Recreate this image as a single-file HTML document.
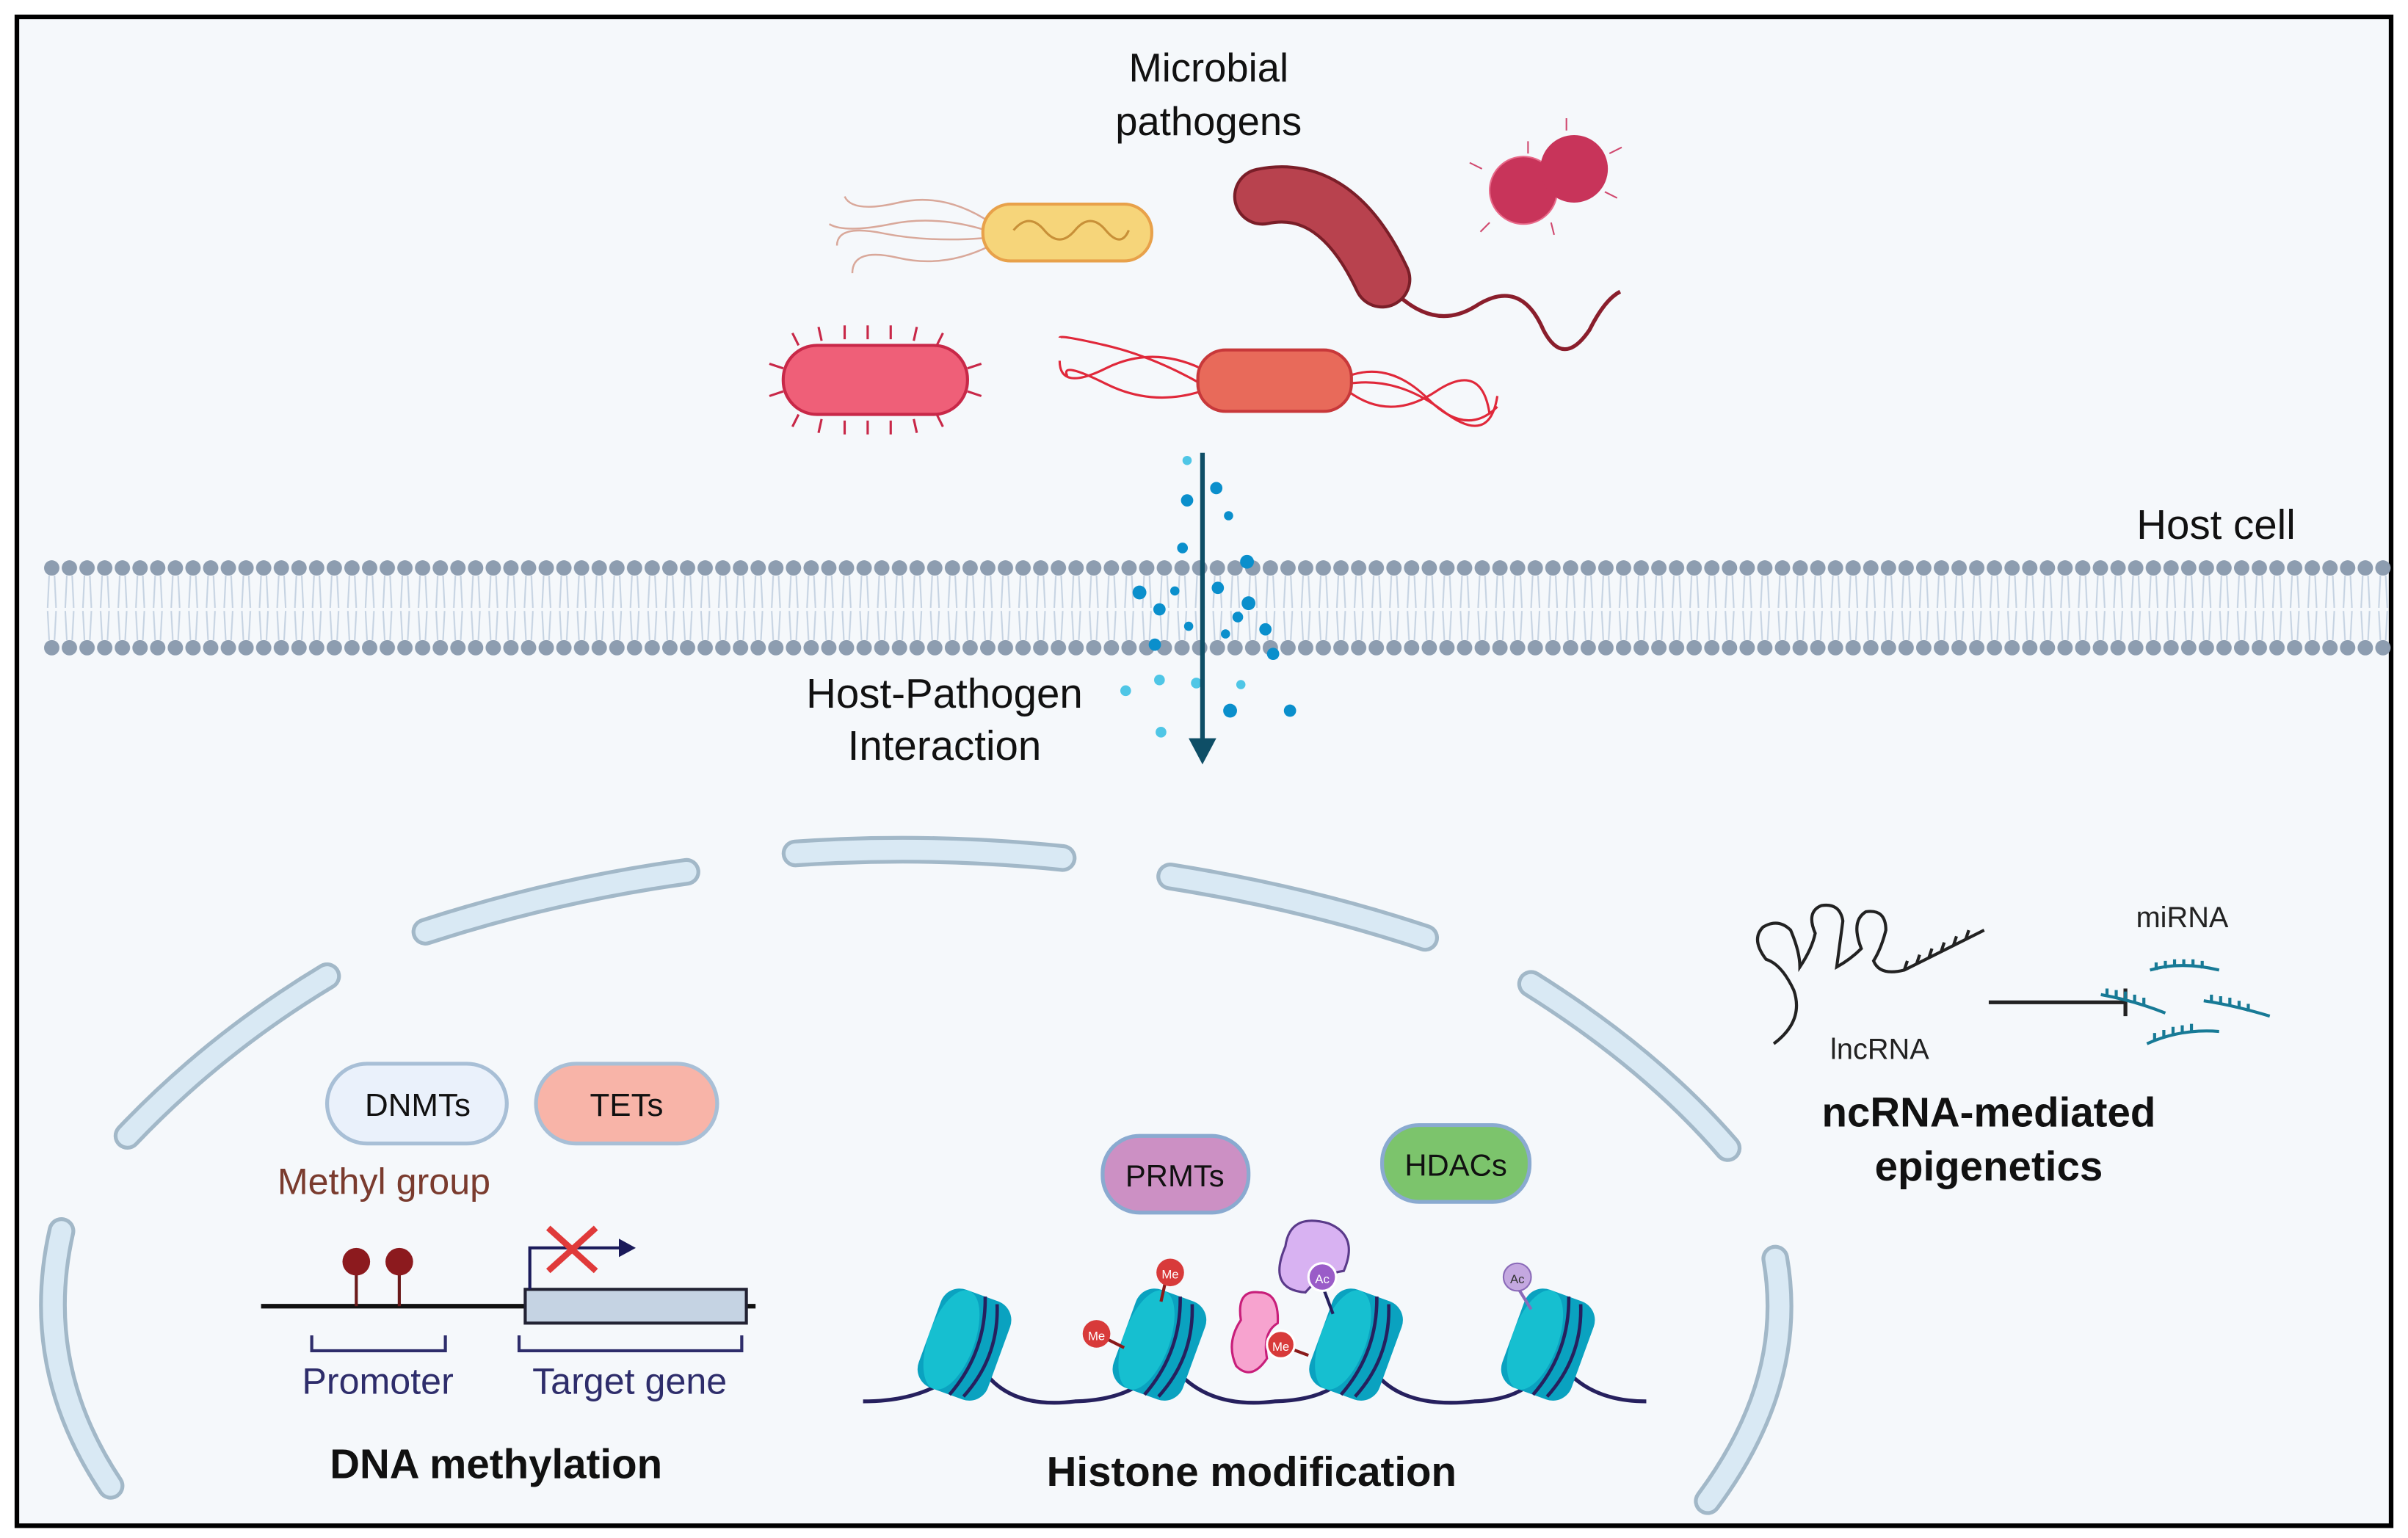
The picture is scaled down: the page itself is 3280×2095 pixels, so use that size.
<!DOCTYPE html>
<html><head><meta charset="utf-8"><style>
html,body{margin:0;padding:0;background:#fff}
svg{display:block}
text{font-family:"Liberation Sans",sans-serif}
</style></head><body>
<svg width="3280" height="2095" viewBox="0 0 1568 1002" preserveAspectRatio="none" xmlns="http://www.w3.org/2000/svg">
<defs>
<pattern id="heads" x="28" y="0" width="11.5" height="1002" patternUnits="userSpaceOnUse">
<circle cx="5.7" cy="370" r="5" fill="#8d9db0"/>
<circle cx="5.7" cy="422" r="5" fill="#8d9db0"/>
<path d="M4 375 L3 396 M7.5 375 L8.5 396 M3 398 L4 417 M8.5 398 L7.5 417" stroke="#c6d3e2" stroke-width="1" fill="none"/>
</pattern>
<g id="nuc">
<g transform="rotate(20)">
<rect x="-24" y="-34" width="48" height="68" rx="13" fill="#0aa2c0"/>
<ellipse cx="-9" cy="0" rx="15" ry="34" fill="#16bfd0"/>
<path d="M2 -34 Q15 0 2 34 M11 -32 Q24 0 11 32" stroke="#26205e" stroke-width="2.2" fill="none"/>
</g>
</g>
</defs>
<rect x="0" y="0" width="1568" height="1002" fill="#fff"/>
<rect x="11" y="11" width="1546" height="983" fill="#f5f8fb" stroke="#000" stroke-width="3"/>

<rect x="28" y="362" width="1529" height="68" fill="url(#heads)"/>

<text x="787" y="53" font-size="26" text-anchor="middle" fill="#111">Microbial</text>
<text x="787" y="88" font-size="26" text-anchor="middle" fill="#111">pathogens</text>
<text x="1443" y="351" font-size="27" text-anchor="middle" fill="#111">Host cell</text>
<text x="615" y="461" font-size="27" text-anchor="middle" fill="#111">Host-Pathogen</text>
<text x="615" y="495" font-size="27" text-anchor="middle" fill="#111">Interaction</text>

<g fill="none" stroke="#d9a89a" stroke-width="1.2">
<path d="M642 150 Q610 140 580 146 T540 146"/><path d="M642 155 Q605 158 575 152 T545 160"/><path d="M645 145 Q615 125 585 132 T550 128"/><path d="M645 160 Q615 175 585 168 T555 178"/>
</g>
<rect x="640" y="133" width="110" height="37" rx="18" fill="#f6d57a" stroke="#e8a14a" stroke-width="2"/>
<path d="M660 150 q10 -12 20 0 t20 0 t20 0 t15 0" stroke="#c89038" fill="none" stroke-width="1.5"/>
<path d="M910 192 Q935 215 960 200 Q990 180 1005 215 Q1018 240 1035 215 Q1045 195 1055 190" stroke="#8a1e2c" stroke-width="2.5" fill="none"/>
<path d="M822 128 Q870 118 900 182" stroke="#7a1e28" stroke-width="38" stroke-linecap="round" fill="none"/>
<path d="M822 128 Q870 118 900 182" stroke="#b8424e" stroke-width="34" stroke-linecap="round" fill="none"/>
<circle cx="992" cy="124" r="22" fill="#c8345a" stroke="#e86a8a" stroke-width="1"/>
<circle cx="1025" cy="110" r="22" fill="#c8345a"/>
<g stroke="#d0486e" stroke-width="1"><path d="M965 110 l-8 -4 M970 145 l-6 6 M995 100 l0 -8 M1048 100 l8 -4 M1045 125 l8 4 M1020 85 l0 -8 M1010 145 l2 8"/></g>
<g stroke="#c82848" stroke-width="1.5">
<path d="M520 225 l-4 -8 M535 222 l-2 -9 M550 221 l0 -9 M565 221 l0 -9 M580 221 l0 -9 M595 222 l2 -9 M610 225 l4 -8 M520 270 l-4 8 M535 273 l-2 9 M550 274 l0 9 M565 274 l0 9 M580 274 l0 9 M595 273 l2 9 M610 270 l4 8 M510 240 l-9 -3 M510 255 l-9 3 M630 240 l9 -3 M630 255 l9 3"/>
</g>
<rect x="510" y="225" width="120" height="45" rx="22" fill="#ef5f78" stroke="#c82848" stroke-width="2"/>
<g fill="none" stroke="#e0283a" stroke-width="1.5">
<path d="M782 240 Q750 225 720 240 T690 235"/><path d="M782 250 Q750 232 720 225 T690 220"/><path d="M782 255 Q750 265 720 250 T695 245"/>
<path d="M878 245 Q905 235 930 260 T975 265"/><path d="M878 255 Q905 275 935 255 T970 270"/><path d="M878 250 Q910 245 940 268 T975 258"/>
</g>
<rect x="780" y="228" width="100" height="40" rx="18" fill="#e86a5a" stroke="#c8383a" stroke-width="2"/>

<g fill="#0a8fcc">
<circle cx="773" cy="326" r="4"/><circle cx="792" cy="318" r="4"/><circle cx="770" cy="357" r="3.5"/><circle cx="800" cy="336" r="3"/><circle cx="812" cy="366" r="4.5"/>
<circle cx="742" cy="386" r="4.5"/><circle cx="765" cy="385" r="3"/><circle cx="793" cy="383" r="4"/><circle cx="813" cy="393" r="4.5"/>
<circle cx="755" cy="397" r="4"/><circle cx="774" cy="408" r="3"/><circle cx="806" cy="402" r="3.5"/><circle cx="798" cy="413" r="3"/><circle cx="824" cy="410" r="4"/>
<circle cx="752" cy="420" r="4"/><circle cx="829" cy="426" r="4"/><circle cx="801" cy="463" r="4.5"/><circle cx="840" cy="463" r="4"/>
</g>
<g fill="#4fc6e6"><circle cx="773" cy="300" r="3"/><circle cx="733" cy="450" r="3.5"/><circle cx="779" cy="445" r="3.5"/><circle cx="808" cy="446" r="3"/><circle cx="756" cy="477" r="3.5"/><circle cx="755" cy="443" r="3.5"/></g>
<line x1="783" y1="295" x2="783" y2="482" stroke="#0e4e66" stroke-width="3"/>
<polygon points="774,481 792,481 783,498" fill="#0e4e66"/>

<g fill="none" stroke-linecap="round">
<g stroke="#a2b8c8" stroke-width="18">
<path d="M40 802 Q20 890 72 968"/><path d="M83 740 Q140 680 213 636"/><path d="M277 607 Q360 580 447 568"/><path d="M518 556 Q605 550 692 559"/><path d="M762 571 Q850 585 928 611"/><path d="M997 641 Q1075 690 1125 748"/><path d="M1156 820 Q1170 900 1112 978"/>
</g>
<g stroke="#d9e9f4" stroke-width="13">
<path d="M40 802 Q20 890 72 968"/><path d="M83 740 Q140 680 213 636"/><path d="M277 607 Q360 580 447 568"/><path d="M518 556 Q605 550 692 559"/><path d="M762 571 Q850 585 928 611"/><path d="M997 641 Q1075 690 1125 748"/><path d="M1156 820 Q1170 900 1112 978"/>
</g>
</g>

<rect x="213" y="693" width="117" height="52" rx="26" fill="#eaf1fb" stroke="#a8bfd6" stroke-width="2.5"/>
<text x="272" y="727" font-size="21" text-anchor="middle" fill="#111">DNMTs</text>
<rect x="349" y="693" width="118" height="52" rx="26" fill="#f8b4a8" stroke="#a8bfd6" stroke-width="2.5"/>
<text x="408" y="727" font-size="21" text-anchor="middle" fill="#111">TETs</text>
<text x="250" y="778" font-size="24" text-anchor="middle" fill="#7a3b2e">Methyl group</text>
<line x1="170" y1="851" x2="492" y2="851" stroke="#111" stroke-width="3"/>
<rect x="342" y="840" width="144" height="22" fill="#c5d3e3" stroke="#223" stroke-width="2"/>
<g stroke="#6b1a1a" stroke-width="2"><line x1="232" y1="822" x2="232" y2="851"/><line x1="260" y1="822" x2="260" y2="851"/></g>
<circle cx="232" cy="822" r="9" fill="#8c1a1e"/><circle cx="260" cy="822" r="9" fill="#8c1a1e"/>
<path d="M345 840 V813 H404" stroke="#1a1a5a" stroke-width="2" fill="none"/>
<polygon points="403,807 414,813 403,819" fill="#1a1a5a"/>
<path d="M357 800 L388 828 M388 800 L357 828" stroke="#e03a3a" stroke-width="4"/>
<path d="M203 870 V880 H290 V870 M338 870 V880 H483 V870" stroke="#2e2d6b" stroke-width="2" fill="none"/>
<text x="246" y="908" font-size="24" text-anchor="middle" fill="#2e2d6b">Promoter</text>
<text x="410" y="908" font-size="24" text-anchor="middle" fill="#2e2d6b">Target gene</text>
<text x="323" y="963" font-size="27" font-weight="bold" text-anchor="middle" fill="#111">DNA methylation</text>

<rect x="718" y="740" width="95" height="50" rx="24" fill="#cc90c4" stroke="#8aaad0" stroke-width="2.5"/>
<text x="765" y="773" font-size="20" text-anchor="middle" fill="#111">PRMTs</text>
<rect x="900" y="733" width="96" height="50" rx="24" fill="#7cc46c" stroke="#8aaad0" stroke-width="2.5"/>
<text x="948" y="766" font-size="20" text-anchor="middle" fill="#111">HDACs</text>
<path d="M562 913 Q600 913 622 895 M642 895 Q660 918 700 913 Q735 912 750 895 M768 895 Q790 918 830 913 Q865 912 878 895 M896 895 Q915 918 960 913 Q990 912 1003 895 M1022 895 Q1040 913 1072 913" stroke="#26205e" stroke-width="2.5" fill="none"/>
<use href="#nuc" x="628" y="876"/><use href="#nuc" x="755" y="876"/><use href="#nuc" x="883" y="876"/><use href="#nuc" x="1008" y="876"/>
<line x1="760" y1="830" x2="756" y2="848" stroke="#8a1a1a" stroke-width="2"/>
<circle cx="762" cy="829" r="9" fill="#d83a3a"/><text x="762" y="833" font-size="8" text-anchor="middle" fill="#fff">Me</text>
<line x1="716" y1="870" x2="732" y2="878" stroke="#8a1a1a" stroke-width="2"/>
<circle cx="714" cy="869" r="9" fill="#d83a3a"/><text x="714" y="873" font-size="8" text-anchor="middle" fill="#fff">Me</text>
<path d="M837 812 Q840 790 865 797 Q885 805 875 828 Q860 830 850 842 Q825 840 837 812Z" fill="#d8b2f2" stroke="#5a3a8a" stroke-width="1.5"/>
<line x1="862" y1="840" x2="868" y2="856" stroke="#26205e" stroke-width="2"/>
<circle cx="861" cy="832" r="9" fill="#9a5cc8" stroke="#fff" stroke-width="1.5"/><text x="861" y="836" font-size="8" text-anchor="middle" fill="#fff">Ac</text>
<path d="M808 860 Q805 840 820 842 Q833 842 832 862 Q822 868 825 885 Q815 900 805 890 Q798 875 808 860Z" fill="#f7a3cf" stroke="#c81e7a" stroke-width="1.5"/>
<line x1="836" y1="877" x2="852" y2="883" stroke="#8a1a1a" stroke-width="2"/>
<circle cx="834" cy="876" r="9" fill="#d83a3a" stroke="#fff" stroke-width="1.5"/><text x="834" y="880" font-size="8" text-anchor="middle" fill="#fff">Me</text>
<line x1="989" y1="840" x2="997" y2="853" stroke="#8a6ab8" stroke-width="2"/>
<circle cx="988" cy="832" r="9" fill="#c4a8e0" stroke="#8a6ab8" stroke-width="1"/><text x="988" y="836" font-size="8" text-anchor="middle" fill="#333">Ac</text>
<text x="815" y="968" font-size="27" font-weight="bold" text-anchor="middle" fill="#111">Histone modification</text>

<g fill="none" stroke="#222" stroke-width="2">
<path d="M1155 680 Q1175 665 1168 645 Q1160 628 1150 625 Q1140 612 1148 604 Q1158 598 1166 606 Q1172 620 1172 630 Q1180 618 1182 608 Q1176 594 1186 590 Q1198 588 1200 600 Q1198 615 1196 630 Q1205 625 1212 618 Q1205 600 1215 594 Q1228 592 1228 606 Q1225 618 1220 626 Q1224 636 1240 632 L1292 606"/>
<path d="M1240 632 l2 -6 M1248 628 l2 -6 M1256 624 l2 -6 M1264 620 l2 -6 M1272 616 l2 -6 M1280 612 l2 -6"/>
</g>
<text x="1224" y="690" font-size="19" text-anchor="middle" fill="#222">lncRNA</text>
<path d="M1295 653 H1383 M1384 644 V662" stroke="#222" stroke-width="2.5" fill="none"/>
<text x="1421" y="604" font-size="19" text-anchor="middle" fill="#222">miRNA</text>
<g stroke="#177a96" stroke-width="2" fill="none">
<path d="M1400 632 Q1420 626 1445 632 M1404 632v-5 M1410 631v-5 M1416 630v-5 M1422 630v-5 M1428 630v-5 M1434 631v-5"/>
<path d="M1368 648 Q1390 652 1410 660 M1372 649v-5 M1378 650v-5 M1384 651v-5 M1390 653v-5 M1396 655v-5"/>
<path d="M1435 652 Q1455 655 1478 662 M1440 653v-5 M1446 654v-5 M1452 655v-5 M1458 657v-5 M1464 659v-5"/>
<path d="M1398 680 Q1420 670 1445 672 M1403 678v-5 M1409 676v-5 M1415 674v-5 M1421 673v-5 M1427 672v-5"/>
</g>
<text x="1295" y="734" font-size="27" font-weight="bold" text-anchor="middle" fill="#111">ncRNA-mediated</text>
<text x="1295" y="769" font-size="27" font-weight="bold" text-anchor="middle" fill="#111">epigenetics</text>
</svg>
</body></html>
